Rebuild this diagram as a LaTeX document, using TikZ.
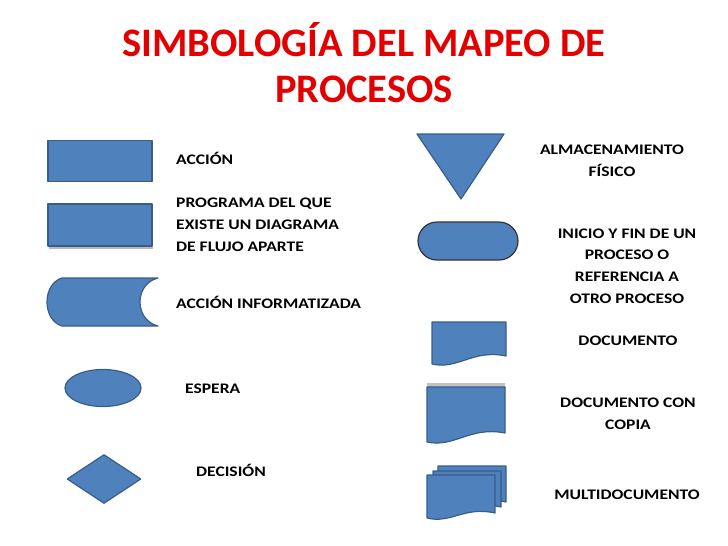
\documentclass[tikz,border=0pt]{standalone}
\usepackage{fontspec}
\setmainfont{Carlito}
\newfontfamily\anchafont[FakeStretch=1.2]{Carlito}
\usepackage{xcolor}
\usepackage{tikz}
\usetikzlibrary{shapes.geometric,positioning}
\definecolor{smBlue}{HTML}{4F81BD}
\definecolor{smLine}{HTML}{385D8A}
\definecolor{smRed}{HTML}{E30000}
\definecolor{smShadow}{HTML}{9A9A9A}

\tikzset{
  simbolo/.style={fill=smBlue,draw=smLine,line width=1.2pt,line join=round},
  etiqueta/.style={font=\anchafont\bfseries\fontsize{14.6}{21.6}\selectfont,inner sep=0pt},
  titulo/.style={font=\bfseries\fontsize{40.5}{46}\selectfont,text=smRed,align=center,inner sep=0pt}
}
% documento: x izq, y sup, ancho, alto derecho, alto izquierdo
\newcommand{\docpath}[5]{%
  (#1,#2) -- ++(#3,0) -- ++(0,#4)
  .. controls ++(-0.45*#3,-7) and ++(0.35*#3,6) .. (#1,#2+#5) -- cycle}

\begin{document}
\begin{tikzpicture}[x=1pt,y=-1pt]
\useasboundingbox (0,0) rectangle (728,546);

\node[titulo,anchor=base] (titulo) at (364,102) {SIMBOLOGÍA DEL MAPEO DE\\PROCESOS};

% columna izquierda
\node[simbolo,rectangle,minimum width=104,minimum height=41,inner sep=0pt] (accion) at (100,161) {};
\fill[smShadow!70] (49,207) rectangle (153,249);
\node[simbolo,rectangle,minimum width=104,minimum height=42,inner sep=0pt] (programa) at (100,225) {};
\draw[simbolo] (62,278) -- (158,278) .. controls (134,284) and (134,320) .. (158,326)
  -- (62,326) .. controls (42,320) and (42,284) .. (62,278) -- cycle;
\node[simbolo,ellipse,minimum width=76,minimum height=37,inner sep=0pt] (espera) at (103,388) {};
\node[simbolo,diamond,minimum width=74,minimum height=49,inner sep=0pt,aspect=1.5] (decision) at (104,479) {};

\node[etiqueta,anchor=base west] (lAccion) at (176,164) {ACCIÓN};
\node[etiqueta,anchor=base west,align=left] (lPrograma) at (176,251)
  {PROGRAMA DEL QUE\\EXISTE UN DIAGRAMA\\DE FLUJO APARTE};
\node[etiqueta,anchor=base west] (lInform) at (176,308) {ACCIÓN INFORMATIZADA};
\node[etiqueta,anchor=base west] (lEspera) at (185,393) {ESPERA};
\node[etiqueta,anchor=base west] (lDecision) at (196,476) {DECISIÓN};

% columna derecha
\draw[simbolo] (417,134) -- (504,134) -- (461,199) -- cycle;
\node[simbolo,draw=black!80,rectangle,rounded corners=19pt,minimum width=100,minimum height=38,inner sep=0pt] (inicio) at (468,241) {};
\draw[simbolo] \docpath{432}{322}{74}{34}{42};
\fill[smShadow!60] \docpath{427}{383}{78}{46}{55};
\draw[simbolo] \docpath{427}{387}{78}{46}{55};
\foreach \dx/\dy/\hr in {11/-9/36, 6/-4/36, 0/0/38} {
  \draw[simbolo] \docpath{427+\dx}{475+\dy}{68}{\hr}{43};
}

\node[etiqueta,anchor=base,align=center] (lAlmacen) at (612,176) {ALMACENAMIENTO\\FÍSICO};
\node[etiqueta,anchor=base,align=center] (lInicio) at (627,303)
  {INICIO Y FIN DE UN\\PROCESO O\\REFERENCIA A\\OTRO PROCESO};
\node[etiqueta,anchor=base] (lDoc) at (628,345) {DOCUMENTO};
\node[etiqueta,anchor=base,align=center] (lDocCopia) at (628,429) {DOCUMENTO CON\\COPIA};
\node[etiqueta,anchor=base] (lMulti) at (627,499) {MULTIDOCUMENTO};
\end{tikzpicture}
\end{document}
